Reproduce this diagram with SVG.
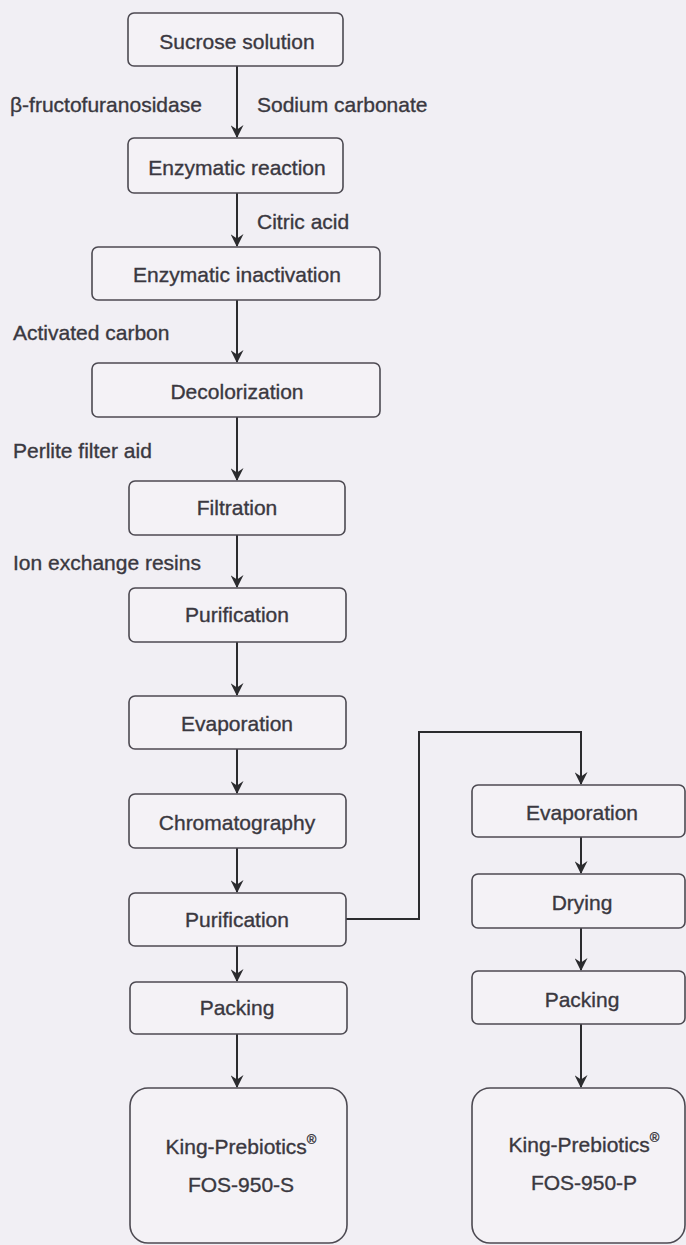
<svg xmlns="http://www.w3.org/2000/svg" width="686" height="1245" viewBox="0 0 686 1245">
<style>
.box{fill:#f4f2f6;stroke:#4d4a52;stroke-width:1.6}
.t{font-family:"Liberation Sans",Arial,sans-serif;font-size:21px;fill:#3a3840;stroke:#3a3840;stroke-width:0.35;text-anchor:middle}
.l{font-family:"Liberation Sans",Arial,sans-serif;font-size:21px;fill:#3a3840;stroke:#3a3840;stroke-width:0.35}
.c{fill:none;stroke:#2b2b2e;stroke-width:2}
</style>
<defs>
<marker id="ah" viewBox="0 0 12 12" refX="11" refY="6" markerWidth="13" markerHeight="13" markerUnits="userSpaceOnUse" orient="auto">
<path d="M0,0 L12,6 L0,12 L4,6 z" fill="#2b2b2e"/>
</marker>
</defs>
<rect x="0" y="0" width="686" height="1245" fill="#f1eff4"/>

<g id="connectors">
<line class="c" x1="237" y1="66" x2="237" y2="137" marker-end="url(#ah)"/>
<line class="c" x1="237" y1="193" x2="237" y2="246" marker-end="url(#ah)"/>
<line class="c" x1="237" y1="300" x2="237" y2="362" marker-end="url(#ah)"/>
<line class="c" x1="237" y1="417" x2="237" y2="480" marker-end="url(#ah)"/>
<line class="c" x1="237" y1="535" x2="237" y2="587" marker-end="url(#ah)"/>
<line class="c" x1="237" y1="642" x2="237" y2="695" marker-end="url(#ah)"/>
<line class="c" x1="237" y1="749" x2="237" y2="793" marker-end="url(#ah)"/>
<line class="c" x1="237" y1="848" x2="237" y2="892" marker-end="url(#ah)"/>
<line class="c" x1="237" y1="946" x2="237" y2="981" marker-end="url(#ah)"/>
<line class="c" x1="237" y1="1034" x2="237" y2="1087" marker-end="url(#ah)"/>
<polyline class="c" points="346,919 419,919 419,732 581,732 581,784" marker-end="url(#ah)"/>
<line class="c" x1="581" y1="837" x2="581" y2="873" marker-end="url(#ah)"/>
<line class="c" x1="581" y1="928" x2="581" y2="970" marker-end="url(#ah)"/>
<line class="c" x1="581" y1="1024" x2="581" y2="1087" marker-end="url(#ah)"/>
</g>

<g id="labels">
<text class="l" x="10" y="112">β-fructofuranosidase</text>
<text class="l" x="257" y="112">Sodium carbonate</text>
<text class="l" x="257" y="229">Citric acid</text>
<text class="l" x="13" y="340">Activated carbon</text>
<text class="l" x="13" y="458">Perlite filter aid</text>
<text class="l" x="13" y="570">Ion exchange resins</text>
</g>

<g id="n1"><rect class="box" x="128" y="13" width="215" height="53" rx="6"/><text class="t" x="237" y="49">Sucrose solution</text></g>
<g id="n2"><rect class="box" x="128" y="138" width="215" height="55" rx="6"/><text class="t" x="237" y="175">Enzymatic reaction</text></g>
<g id="n3"><rect class="box" x="92" y="247" width="288" height="53" rx="6"/><text class="t" x="237" y="282">Enzymatic inactivation</text></g>
<g id="n4"><rect class="box" x="92" y="363" width="288" height="54" rx="6"/><text class="t" x="237" y="399">Decolorization</text></g>
<g id="n5"><rect class="box" x="129" y="481" width="216" height="54" rx="6"/><text class="t" x="237" y="515">Filtration</text></g>
<g id="n6"><rect class="box" x="129" y="588" width="217" height="54" rx="6"/><text class="t" x="237" y="622">Purification</text></g>
<g id="n7"><rect class="box" x="129" y="696" width="217" height="53" rx="6"/><text class="t" x="237" y="731">Evaporation</text></g>
<g id="n8"><rect class="box" x="129" y="794" width="217" height="54" rx="6"/><text class="t" x="237" y="830">Chromatography</text></g>
<g id="n9"><rect class="box" x="129" y="893" width="217" height="53" rx="6"/><text class="t" x="237" y="927">Purification</text></g>
<g id="n10"><rect class="box" x="130" y="982" width="217" height="52" rx="6"/><text class="t" x="237" y="1015">Packing</text></g>
<g id="n11"><rect class="box" x="130" y="1088" width="217" height="155" rx="18"/>
<text class="t" x="241" y="1154">King-Prebiotics<tspan font-size="13" dy="-10">®</tspan></text>
<text class="t" x="241" y="1192">FOS-950-S</text></g>

<g id="n12"><rect class="box" x="472" y="785" width="213" height="52" rx="6"/><text class="t" x="582" y="820">Evaporation</text></g>
<g id="n13"><rect class="box" x="472" y="874" width="213" height="54" rx="6"/><text class="t" x="582" y="910">Drying</text></g>
<g id="n14"><rect class="box" x="472" y="971" width="213" height="53" rx="6"/><text class="t" x="582" y="1007">Packing</text></g>
<g id="n15"><rect class="box" x="472" y="1088" width="213" height="155" rx="18"/>
<text class="t" x="584" y="1152">King-Prebiotics<tspan font-size="13" dy="-10">®</tspan></text>
<text class="t" x="584" y="1190">FOS-950-P</text></g>
</svg>
